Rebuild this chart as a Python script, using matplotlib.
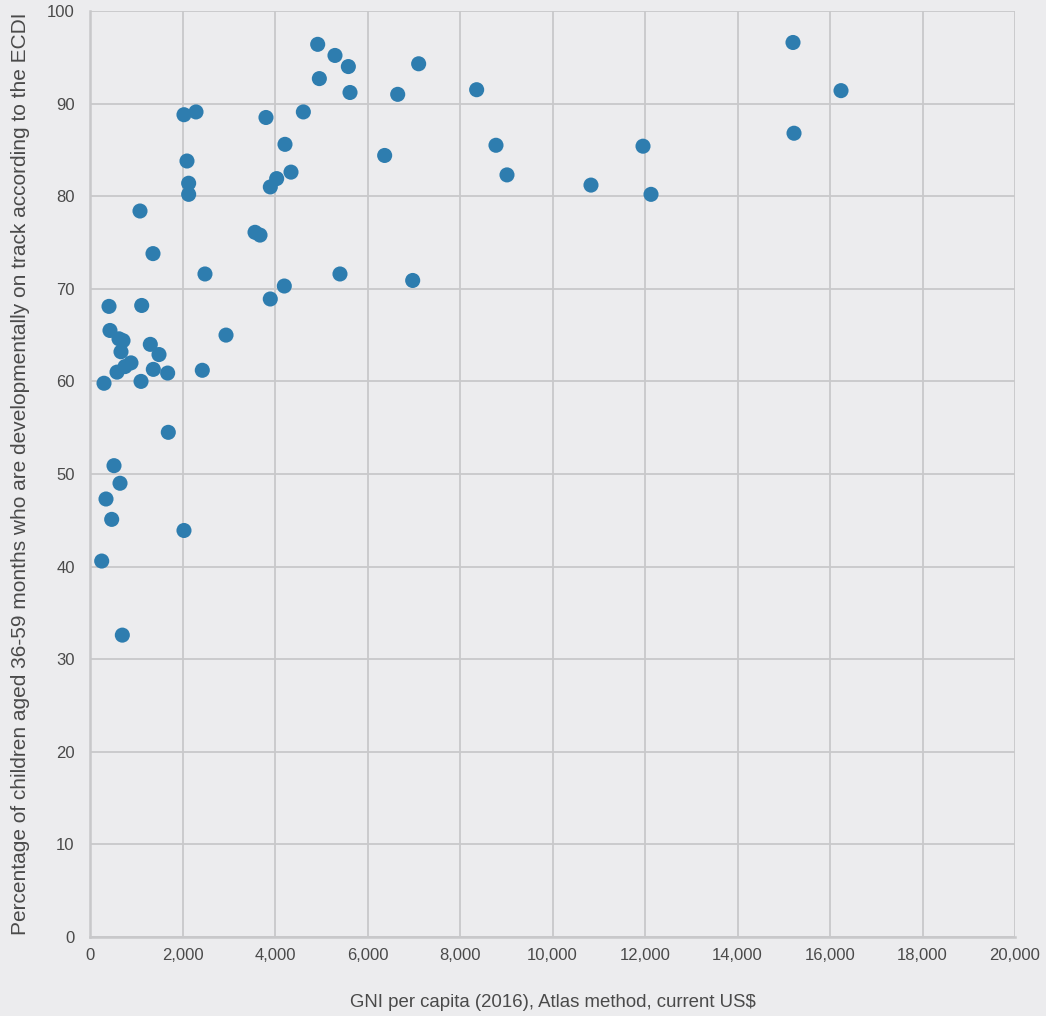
import matplotlib
matplotlib.use("Agg")
import matplotlib.pyplot as plt

plt.rcParams['font.family'] = ['Liberation Sans', 'DejaVu Sans']

# GNI per capita (US$) and share of children developmentally on track (%)
gni = [
    303, 411, 432, 253, 346, 469, 519, 649, 699, 584,
    627, 714, 670, 757, 886, 1118, 1103, 1304, 1492, 1369,
    1679, 1693, 1081, 1362, 2032, 2097, 2133, 2133, 2032, 2292,
    2428, 2486, 2941, 3568, 3676, 3898, 4201, 3805, 4216, 4346,
    4036, 4923, 5297, 5586, 4959, 5622, 4613, 7106, 6653, 6371,
    5405, 6977, 8360, 8778, 9016, 10832, 11957, 12130, 15200, 15222,
    16238, 3899,
]
on_track = [
    59.8, 68.1, 65.5, 40.6, 47.3, 45.1, 50.9, 49.0, 32.6, 61.0,
    64.6, 64.4, 63.2, 61.6, 62.0, 68.2, 60.0, 64.0, 62.9, 61.3,
    60.9, 54.5, 78.4, 73.8, 43.9, 83.8, 81.4, 80.2, 88.8, 89.1,
    61.2, 71.6, 65.0, 76.1, 75.8, 68.9, 70.3, 88.5, 85.6, 82.6,
    81.9, 96.4, 95.2, 94.0, 92.7, 91.2, 89.1, 94.3, 91.0, 84.4,
    71.6, 70.9, 91.5, 85.5, 82.3, 81.2, 85.4, 80.2, 96.6, 86.8,
    91.4, 81.0,
]

x_ticks = list(range(0, 20001, 2000))
y_ticks = list(range(0, 101, 10))

bg = '#ececee'
grid_c = '#c8c8ca'
text_c = '#4a4a4a'
dot_c = '#2e7daf'

fig = plt.figure(figsize=(10.46, 10.16), dpi=100, facecolor=bg)
ax = fig.add_axes([90 / 1046, 79 / 1016, 925 / 1046, 926 / 1016], facecolor=bg)

ax.scatter(gni, on_track, s=118, color=dot_c, edgecolors='none', zorder=3)

ax.set_xlim(0, 20000)
ax.set_ylim(0, 100)
ax.set_xticks(x_ticks)
ax.set_xticklabels([f'{v:,}' for v in x_ticks])
ax.set_yticks(y_ticks)
ax.grid(True, color=grid_c, linewidth=1.3, zorder=0)
ax.set_axisbelow(True)
for side in ['top', 'right']:
    ax.spines[side].set_visible(False)
for side in ['left', 'bottom']:
    ax.spines[side].set_color(grid_c)
    ax.spines[side].set_linewidth(1.8)
ax.tick_params(length=0, labelsize=12, labelcolor=text_c)
ax.tick_params(axis='x', pad=8)
ax.tick_params(axis='y', pad=11)

ax.set_xlabel('GNI per capita (2016), Atlas method, current US$',
              fontsize=13.4, color=text_c, labelpad=22)
ax.set_ylabel('Percentage of children aged 36-59 months who are developmentally on track according to the ECDI',
              fontsize=15, color=text_c, labelpad=12)

fig.savefig('out.png', dpi=100, facecolor=bg)
